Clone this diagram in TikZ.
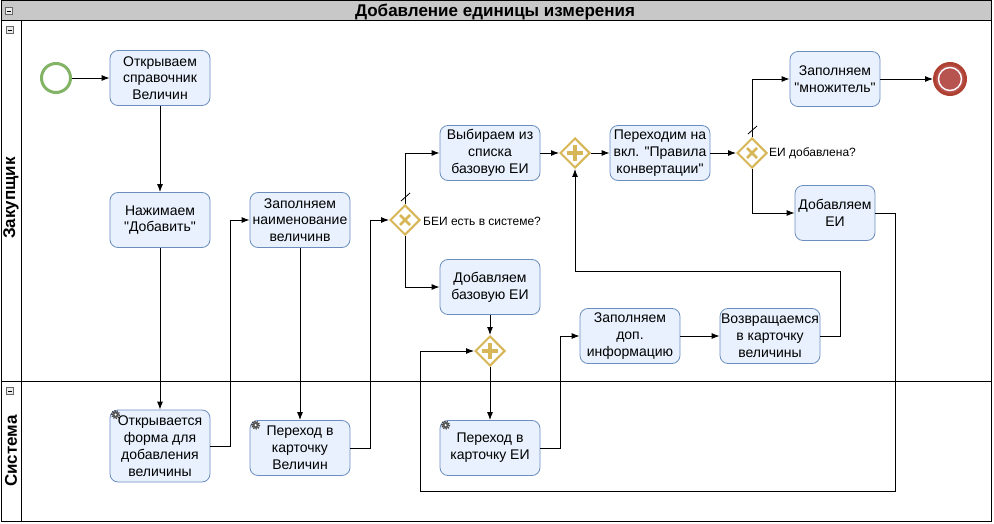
\documentclass[tikz,border=0pt]{standalone}
\usepackage{fontspec}
\setmainfont{Liberation Sans}[Ligatures=TeXOff]
\usetikzlibrary{arrows.meta,shapes.geometric}
\definecolor{taskfill}{RGB}{232,241,253}
\definecolor{taskline}{RGB}{108,142,191}
\definecolor{gold}{RGB}{214,182,86}
\definecolor{startgreen}{RGB}{130,179,102}
\definecolor{endfill}{RGB}{184,84,80}
\definecolor{endline}{RGB}{174,65,50}
\definecolor{headgray}{RGB}{200,200,200}
\begin{document}
\begin{tikzpicture}[x=1pt,y=-1pt,
  task/.style={draw=taskline, fill=taskfill, rounded corners=8pt, minimum width=100pt, minimum height=55pt, align=center, font=\fontsize{14}{16.8}\selectfont, inner sep=1pt, line width=0.8pt},
  gate/.style={diamond, draw=gold, fill=white, line width=2pt, minimum width=30pt, minimum height=30pt, inner sep=0pt},
  flow/.style={draw=black, line width=0.9pt, -{Latex[length=8pt,width=6pt]}},
  plainline/.style={draw=black, line width=0.9pt},
  xmark/.style={draw=gold, line width=2.6pt},
  plusmark/.style={draw=gold, line width=3.6pt},
  gatelabel/.style={anchor=west, font=\fontsize{12}{14}\selectfont, inner sep=1pt},
  collapse/.style={draw=black!60, fill=black!8, minimum size=7pt, inner sep=0pt, line width=0.5pt},
  frame/.style={draw=black, line width=1pt}
]
\useasboundingbox (0,0) rectangle (994,524);
% pool frame and lanes
\fill[headgray] (1,1) rectangle (991,21);
\draw[frame] (1,1) rectangle (991,521);
\draw[frame] (1,21) -- (991,21);
\draw[frame] (21,21) -- (21,521);
\draw[frame] (1,381) -- (991,381);
\node[font=\bfseries\fontsize{17}{19}\selectfont] (title) at (495,12) {Добавление единицы измерения};
\node[rotate=90, font=\bfseries\fontsize{17}{19}\selectfont] (lane1) at (11,198) {Закупщик};
\node[rotate=90, font=\bfseries\fontsize{17}{19}\selectfont] (lane2) at (11,451) {Система};
\foreach \n/\p in {c0/{(9,11)}, c1/{(10,30)}, c2/{(10,391)}}{
  \node[collapse] (\n) at \p {};
  \draw[black, line width=0.8pt] ([xshift=-2pt]\n.center) -- ([xshift=2pt]\n.center);
}
% events
\node[circle, draw=startgreen, fill=white, line width=3pt, minimum size=29pt, inner sep=0pt] (S) at (56,78) {};
\node[circle, draw=endline, fill=endfill, line width=3pt, minimum size=31pt, inner sep=0pt] (E) at (950,79) {};
\draw[white, line width=1.4pt] (E.center) circle (11.5);
% tasks
\node[task] (T1) at (160,78) {Открываем\\справочник\\Величин};
\node[task] (T2) at (160,220) {Нажимаем\\"Добавить"};
\node[task, minimum height=72pt] (T3) at (160,446) {Открывается\\форма для\\добавления\\величины};
\node[task] (T4) at (300,220) {Заполняем\\наименование\\величинв};
\node[task] (T5) at (300,448) {Переход в\\карточку\\Величин};
\node[task] (T6) at (490,153) {Выбираем из\\списка\\базовую ЕИ};
\node[task] (T7) at (490,287) {Добавляем\\базовую ЕИ};
\node[task] (T8) at (660,153) {Переходим на\\вкл. "Правила\\конвертации"};
\node[task, minimum width=90pt] (T9) at (835,79) {Заполняем\\"множитель"};
\node[task, minimum width=80pt] (T10) at (835,213) {Добавляем\\ЕИ};
\node[task] (T11) at (490,448) {Переход в\\карточку ЕИ};
\node[task] (T12) at (630,336) {Заполняем\\доп.\\информацию};
\node[task] (T13) at (770,336) {Возвращаемся\\в карточку\\величины};
% gear icons
\foreach \t in {T3,T5,T11}{
  \draw[black!75, line width=2pt, dash pattern=on 1.1pt off 1.1pt] ([shift={(6,5)}]\t.north west) circle (3.6);
  \fill[black!65] ([shift={(6,5)}]\t.north west) circle (3.2);
  \fill[white] ([shift={(6,5)}]\t.north west) circle (1.2);
}
% gateways
\node[gate] (G1) at (405,220) {};
\node[gate] (G2) at (575,153) {};
\node[gate] (G3) at (752,153) {};
\node[gate] (G4) at (490,351) {};
\foreach \g in {G1,G3}{
  \draw[xmark] ([shift={(-5,-5)}]\g.center) -- ([shift={(5,5)}]\g.center);
  \draw[xmark] ([shift={(-5,5)}]\g.center) -- ([shift={(5,-5)}]\g.center);
}
\foreach \g in {G2,G4}{
  \draw[plusmark] ([shift={(-8,0)}]\g.center) -- ([shift={(8,0)}]\g.center);
  \draw[plusmark] ([shift={(0,-8)}]\g.center) -- ([shift={(0,8)}]\g.center);
}
\node[gatelabel] (L1) at (422,221) {БЕИ есть в системе?};
\node[gatelabel] (L3) at (768,153) {ЕИ добавлена?};
% flows
\draw[flow] (S) -- (T1);
\draw[flow] (T1) -- (T2);
\draw[flow] (T2) -- (T3);
\draw[flow] (T3.east) -- ++(20,0) |- (T4.west);
\draw[flow] (T4) -- (T5);
\draw[flow] (T5.east) -- ++(20,0) |- (G1.west);
\draw[flow] (G1.north) |- (T6.west);
\draw[flow] (G1.south) |- (T7.west);
\draw[flow] (T6) -- (G2);
\draw[flow] (G2) -- (T8);
\draw[flow] (T8) -- (G3);
\draw[flow] (G3.north) |- (T9.west);
\draw[flow] (G3.south) |- (T10.west);
\draw[flow] (T9) -- (E);
\draw[flow] (T7) -- (G4);
\draw[flow] (G4) -- (T11);
\draw[flow] (T11.east) -- ++(20,0) |- (T12.west);
\draw[flow] (T12) -- (T13);
\coordinate (r1) at (840,271);
\draw[flow] (T13.east) -| (r1) -| (G2.south);
\coordinate (r2) at (895,491);
\coordinate (r3) at (420,351);
\draw[flow] (T10.east) -| (r2) -| (r3) -- (G4.west);
% default-flow slashes
\draw[plainline, line width=0.8pt] ([shift={(-4,-3)}]G1.north) -- ([shift={(5,-11)}]G1.north);
\draw[plainline, line width=0.8pt] ([shift={(-4,-3)}]G3.north) -- ([shift={(5,-11)}]G3.north);
\end{tikzpicture}
\end{document}
